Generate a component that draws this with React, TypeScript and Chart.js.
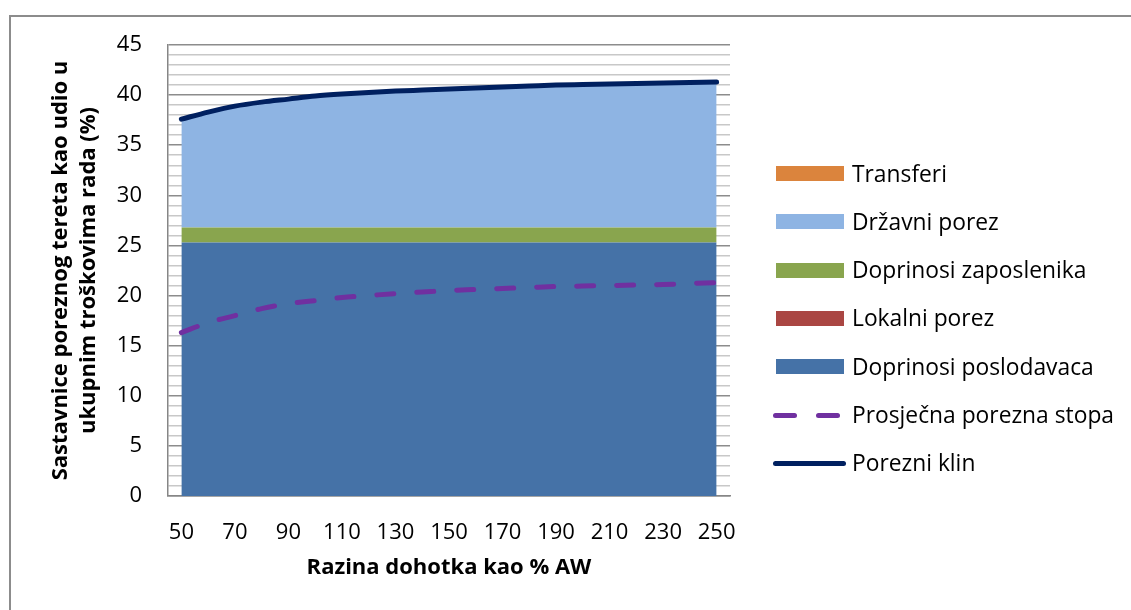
import React, { useEffect, useRef } from 'react';
import { Chart, registerables } from 'chart.js';
Chart.register(...registerables);

const incomeLevels = [50, 60, 70, 80, 90, 100, 110, 120, 130, 140, 150, 160, 170, 180, 190, 200, 210, 220, 230, 240, 250];
const employerContrib = [25.3, 25.3, 25.3, 25.3, 25.3, 25.3, 25.3, 25.3, 25.3, 25.3, 25.3, 25.3, 25.3, 25.3, 25.3, 25.3, 25.3, 25.3, 25.3, 25.3, 25.3];
const localTax = [0, 0, 0, 0, 0, 0, 0, 0, 0, 0, 0, 0, 0, 0, 0, 0, 0, 0, 0, 0, 0];
const employeeContrib = [1.5, 1.5, 1.5, 1.5, 1.5, 1.5, 1.5, 1.5, 1.5, 1.5, 1.5, 1.5, 1.5, 1.5, 1.5, 1.5, 1.5, 1.5, 1.5, 1.5, 1.5];
const stateTax = [10.8, 11.5, 12.1, 12.5, 12.8, 13.1, 13.3, 13.45, 13.6, 13.7, 13.8, 13.9, 14.0, 14.1, 14.2, 14.25, 14.3, 14.35, 14.4, 14.45, 14.5];
const transfers = [0, 0, 0, 0, 0, 0, 0, 0, 0, 0, 0, 0, 0, 0, 0, 0, 0, 0, 0, 0, 0];
const averageTaxRate = [16.3, 17.3, 18.0, 18.7, 19.2, 19.5, 19.8, 20.0, 20.2, 20.35, 20.5, 20.6, 20.7, 20.8, 20.9, 20.95, 21.0, 21.05, 21.1, 21.2, 21.3];
const taxWedge = [37.6, 38.3, 38.9, 39.3, 39.6, 39.9, 40.1, 40.25, 40.4, 40.5, 40.6, 40.7, 40.8, 40.9, 41.0, 41.05, 41.1, 41.15, 41.2, 41.25, 41.3];

const yTitle = ['Sastavnice poreznog tereta kao udio u', 'ukupnim troškovima rada (%)'];
const xTitle = 'Razina dohotka kao % AW';

const FONT = '"Open Sans", sans-serif';
const FS = 22;
const LEGEND_FS = 22.8;

const C_TRANS = '#DB843D';
const C_STATE = '#8EB4E3';
const C_EMPLOYEE = '#89A54E';
const C_LOCAL = '#AA4643';
const C_EMPLOYER = '#4572A7';
const C_AVG = '#7030A0';
const C_WEDGE = '#002060';

const legendItems = [
  { label: 'Transferi', color: C_TRANS, kind: 'box' },
  { label: 'Državni porez', color: C_STATE, kind: 'box' },
  { label: 'Doprinosi zaposlenika', color: C_EMPLOYEE, kind: 'box' },
  { label: 'Lokalni porez', color: C_LOCAL, kind: 'box' },
  { label: 'Doprinosi poslodavaca', color: C_EMPLOYER, kind: 'box' },
  { label: 'Prosječna porezna stopa', color: C_AVG, kind: 'dash' },
  { label: 'Porezni klin', color: C_WEDGE, kind: 'line' },
];

export default function App() {
  const ref = useRef<HTMLCanvasElement>(null);
  useEffect(() => {
    if (!ref.current) return;
    const area = (label: string, data: number[], color: string, fill: any) => ({
      type: 'line' as const,
      label,
      data,
      backgroundColor: color,
      borderColor: color,
      borderWidth: 0,
      pointRadius: 0,
      fill,
      stack: 'areas',
      tension: 0,
    });
    const chart = new Chart(ref.current, {
      type: 'line',
      data: {
        labels: incomeLevels.map(String),
        datasets: [
          {
            label: 'Porezni klin',
            data: taxWedge,
            borderColor: C_WEDGE,
            backgroundColor: C_WEDGE,
            borderWidth: 5,
            pointRadius: 0,
            fill: false,
            stack: 'wedge',
            cubicInterpolationMode: 'monotone',
            borderCapStyle: 'round',
          } as any,
          {
            label: 'Prosječna porezna stopa',
            data: averageTaxRate,
            borderColor: C_AVG,
            backgroundColor: C_AVG,
            borderWidth: 5,
            borderDash: [17, 23],
            borderCapStyle: 'round',
            pointRadius: 0,
            fill: false,
            stack: 'avg',
            cubicInterpolationMode: 'monotone',
          } as any,
          area('Doprinosi poslodavaca', employerContrib, C_EMPLOYER, 'origin'),
          area('Lokalni porez', localTax, C_LOCAL, '-1'),
          area('Doprinosi zaposlenika', employeeContrib, C_EMPLOYEE, '-1'),
          area('Državni porez', stateTax, C_STATE, '-1'),
          area('Transferi', transfers, C_TRANS, '-1'),
        ],
      },
      options: {
        animation: false,
        responsive: false,
        layout: { padding: { left: 0, right: 401, top: 45, bottom: 0 } },
        plugins: { legend: { display: false }, tooltip: { enabled: false } },
        scales: {
          x: {
            type: 'category',
            offset: true,
            grid: { display: false, drawTicks: false },
            border: { display: true, color: '#868686', width: 1.5 },
            ticks: {
              autoSkip: false,
              maxRotation: 0,
              padding: 24,
              color: '#000',
              font: { family: FONT, size: FS },
              callback: (_v: any, i: number) => (i % 2 === 0 ? String(incomeLevels[i]) : ''),
            },
            title: {
              display: true,
              text: xTitle,
              color: '#000',
              font: { family: FONT, size: FS, weight: 'bold' },
              padding: { top: 0, bottom: 29 },
            },
            afterFit: (s: any) => { s.height = 114; },
          },
          y: {
            stacked: true,
            min: 0,
            max: 45,
            grid: {
              drawTicks: false,
              color: (ctx: any) => (ctx.tick && ctx.tick.value % 5 === 0 ? '#8C8C8C' : '#C8C8C8'),
              lineWidth: 1.5,
            },
            border: { display: true, color: '#868686', width: 1.5 },
            ticks: {
              stepSize: 1,
              maxTicksLimit: 100,
              autoSkip: false,
              padding: 26,
              color: '#000',
              font: { family: FONT, size: FS },
              callback: (v: any) => (Number(v) % 5 === 0 ? String(v) : ''),
            },
            title: {
              display: true,
              text: yTitle,
              color: '#000',
              font: { family: FONT, size: FS, weight: 'bold', lineHeight: 1.25 },
              padding: { top: 47, bottom: 0 },
            },
            afterFit: (s: any) => { s.width = 168; },
          },
        },
      } as any,
    });
    return () => chart.destroy();
  }, []);

  const rowGap = 48.3;
  const firstY = 173;
  return (
    <div style={{ position: 'absolute', left: 0, top: 0, width: 1131, height: 610, overflow: 'hidden', background: '#fff' }}>
      <div style={{ position: 'absolute', left: 9, top: 15, width: 1200, height: 700, border: '2px solid #8C8C8C', boxSizing: 'border-box' }} />
      <canvas ref={ref} width={1131} height={610} style={{ position: 'absolute', left: 0, top: 0 }} />
      {legendItems.map((it, i) => {
        const cy = firstY + i * rowGap;
        return (
          <div key={it.label} style={{ position: 'absolute', left: 772, top: cy - 15, height: 30, display: 'flex', alignItems: 'center', fontFamily: FONT, fontSize: LEGEND_FS, color: '#000', whiteSpace: 'nowrap' }}>
            <div style={{ width: 80, height: 30, position: 'relative' }}>
              {it.kind === 'box' && (
                <div style={{ position: 'absolute', left: 4, top: 8, width: 68, height: 15, background: it.color }} />
              )}
              {it.kind === 'dash' && (
                <>
                  <div style={{ position: 'absolute', left: 1, top: 13, width: 24, height: 5, borderRadius: 3, background: it.color }} />
                  <div style={{ position: 'absolute', left: 44, top: 13, width: 24, height: 5, borderRadius: 3, background: it.color }} />
                </>
              )}
              {it.kind === 'line' && (
                <div style={{ position: 'absolute', left: 1, top: 13, width: 73, height: 5, borderRadius: 3, background: it.color }} />
              )}
            </div>
            <span>{it.label}</span>
          </div>
        );
      })}
    </div>
  );
}
